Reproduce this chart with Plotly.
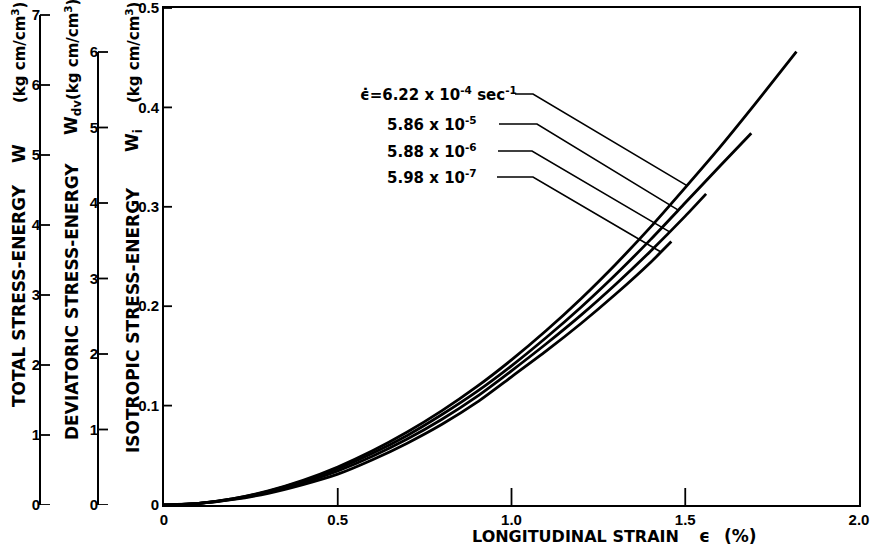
import numpy as np
import plotly.graph_objects as go

# Isotropic stress-energy W_i (kg cm/cm^3) vs longitudinal strain (%) at four strain rates
strain_a = [0.0, 0.1, 0.2, 0.3, 0.4, 0.5, 0.6, 0.7, 0.8, 0.9, 1.0, 1.1, 1.2, 1.3, 1.4, 1.5, 1.6, 1.7, 1.82]
wi_a = [0.0, 0.0017, 0.0065, 0.0143, 0.0249, 0.0383, 0.0545, 0.0734, 0.0949, 0.1190, 0.1460,
        0.1755, 0.2076, 0.2423, 0.2795, 0.3193, 0.3600, 0.4030, 0.4560]

strain_b = [0.0, 0.1, 0.2, 0.3, 0.4, 0.5, 0.6, 0.7, 0.8, 0.9, 1.0, 1.1, 1.2, 1.3, 1.4, 1.5, 1.6, 1.69]
wi_b = [0.0, 0.0017, 0.0063, 0.0138, 0.0240, 0.0365, 0.0520, 0.0700, 0.0910, 0.1140, 0.1400,
        0.1685, 0.1990, 0.2319, 0.2670, 0.3040, 0.3410, 0.3740]

strain_c = [0.0, 0.1, 0.2, 0.3, 0.4, 0.5, 0.6, 0.7, 0.8, 0.9, 1.0, 1.1, 1.2, 1.3, 1.4, 1.5, 1.56]
wi_c = [0.0, 0.0016, 0.0060, 0.0128, 0.0222, 0.0342, 0.0490, 0.0663, 0.0862, 0.1090, 0.1350,
        0.1622, 0.1910, 0.2221, 0.2553, 0.2906, 0.3130]

strain_d = [0.0, 0.1, 0.2, 0.3, 0.4, 0.5, 0.6, 0.7, 0.8, 0.9, 1.0, 1.1, 1.2, 1.3, 1.4, 1.46]
wi_d = [0.0, 0.0015, 0.0056, 0.0118, 0.0205, 0.0310, 0.0455, 0.0622, 0.0812, 0.1032, 0.1290,
        0.1550, 0.1826, 0.2122, 0.2440, 0.2650]

rate_labels = [
    "ϵ̇=6.22 x 10<sup>-4</sup> sec<sup>-1</sup>",
    "5.86 x 10<sup>-5</sup>",
    "5.88 x 10<sup>-6</sup>",
    "5.98 x 10<sup>-7</sup>",
]

x_tickvals = [0, 0.5, 1.0, 1.5, 2.0]
x_ticktext = ["0", "0.5", "1.0", "1.5", "2.0"]
wi_tickvals = [0, 0.1, 0.2, 0.3, 0.4, 0.5]
wi_ticktext = ["0", "0.1", "0.2", "0.3", "0.4", "0.5"]
w_tickvals = [0, 1, 2, 3, 4, 5, 6, 7]
wdv_tickvals = [0, 1, 2, 3, 4, 5, 6]

# ---- page geometry (pixels) ----
W_PX, H_PX = 880, 559
M_L, M_R, M_T, M_B = 30, 21, 8, 54
PAPER_W = W_PX - M_L - M_R
PAPER_H = H_PX - M_T - M_B
PLOT_LEFT = 164              # main (W_i) axis position
X_SCALE = (W_PX - M_R - PLOT_LEFT) / 2.0   # px per % strain
Y_BOTTOM = H_PX - M_B
Y_SCALE = PAPER_H / 0.5                     # px per unit W_i
W_AXIS_X, WDV_AXIS_X = 40, 98
W_PX_PER_UNIT, WDV_PX_PER_UNIT = 70.0, 75.5
X_TICK_LEN, WI_TICK_LEN, SIDE_TICK_LEN = 17, 8, 10


def paper_x(px):
    return (px - M_L) / PAPER_W


def paper_y(py):
    return (Y_BOTTOM - py) / PAPER_H


def data_x(px):
    return (px - PLOT_LEFT) / X_SCALE


def data_y(py):
    return (Y_BOTTOM - py) / Y_SCALE


fig = go.Figure()

curves = [(strain_a, wi_a), (strain_b, wi_b), (strain_c, wi_c), (strain_d, wi_d)]
for (sx, sy), name in zip(curves, rate_labels):
    fig.add_trace(go.Scatter(x=sx, y=sy, mode="lines", name=name,
                             line=dict(color="black", width=2.8, shape="spline", smoothing=0.6),
                             showlegend=False, hoverinfo="skip"))

# leader lines: text left (px), row centre (px), elbow start/end (px), strain where it meets its curve
leaders = [
    dict(text_x=358, y=94, h0=515, h1=533, at=1.505),
    dict(text_x=385, y=124, h0=499, h1=537, at=1.48),
    dict(text_x=385, y=151, h0=498, h1=532, at=1.455),
    dict(text_x=385, y=177, h0=497, h1=533, at=1.43),
]
annotations = []
for (sx, sy), label, ld in zip(curves, rate_labels, leaders):
    tip_y = float(np.interp(ld["at"], sx, sy))
    fig.add_trace(go.Scatter(
        x=[data_x(ld["h0"]), data_x(ld["h1"]), ld["at"]],
        y=[data_y(ld["y"]), data_y(ld["y"]), tip_y],
        mode="lines", line=dict(color="black", width=1.6),
        showlegend=False, hoverinfo="skip"))
    annotations.append(dict(text="<b>%s</b>" % label, x=paper_x(ld["text_x"]), y=paper_y(ld["y"]),
                            xref="paper", yref="paper", xanchor="left", yanchor="middle",
                            showarrow=False,
                            font=dict(family="DejaVu Sans", size=15, color="black")))

# placeholder traces so the two extra energy scales are drawn
fig.add_trace(go.Scatter(x=[None], y=[None], xaxis="x", yaxis="y2", mode="lines",
                         showlegend=False, hoverinfo="skip"))
fig.add_trace(go.Scatter(x=[None], y=[None], xaxis="x", yaxis="y3", mode="lines",
                         showlegend=False, hoverinfo="skip"))


def text_ann(text, px, py, size=17, angle=-90, xanchor="center"):
    return dict(text="<b>%s</b>" % text, x=paper_x(px), y=paper_y(py),
                xref="paper", yref="paper", xanchor=xanchor, yanchor="middle",
                showarrow=False, textangle=angle,
                font=dict(family="DejaVu Sans", size=size, color="black"))


unit = "(kg cm/cm<sup>3</sup>)"
annotations += [
    text_ann("TOTAL STRESS-ENERGY", 19, 296),
    text_ann("W", 19, 154),
    text_ann(unit, 19, 53, size=15),
    text_ann("DEVIATORIC STRESS-ENERGY", 72, 302),
    text_ann("W<sub>dv</sub>", 72, 118),
    text_ann(unit, 72, 50, size=15),
    text_ann("ISOTROPIC STRESS-ENERGY", 133, 320),
    text_ann("W<sub>i</sub>", 133, 141),
    text_ann(unit, 133, 53, size=15),
    text_ann("LONGITUDINAL STRAIN", 470, 536, size=16, angle=0, xanchor="left"),
    text_ann("ϵ", 697, 536, size=17, angle=0, xanchor="left"),
    text_ann("(%)", 722, 536, size=17, angle=0, xanchor="left"),
]

TICK_LINE = dict(color="black", width=1.8)
shapes = [
    # W and W_dv scale lines stop at their top tick
    dict(type="line", xref="paper", yref="y2", x0=paper_x(W_AXIS_X), x1=paper_x(W_AXIS_X),
         y0=w_tickvals[0], y1=w_tickvals[-1], line=dict(color="black", width=2)),
    dict(type="line", xref="paper", yref="y3", x0=paper_x(WDV_AXIS_X), x1=paper_x(WDV_AXIS_X),
         y0=wdv_tickvals[0], y1=wdv_tickvals[-1], line=dict(color="black", width=2)),
]
# tick marks pointing into the plot, one per tick value
for v in x_tickvals[1:-1]:
    shapes.append(dict(type="line", xref="x", x0=v, x1=v, yref="paper",
                       y0=0, y1=X_TICK_LEN / PAPER_H, line=TICK_LINE))
for v in wi_tickvals[1:]:
    shapes.append(dict(type="line", yref="y", y0=v, y1=v, xref="paper",
                       x0=paper_x(PLOT_LEFT), x1=paper_x(PLOT_LEFT + WI_TICK_LEN), line=TICK_LINE))
for v in w_tickvals:
    shapes.append(dict(type="line", yref="y2", y0=v, y1=v, xref="paper",
                       x0=paper_x(W_AXIS_X), x1=paper_x(W_AXIS_X + SIDE_TICK_LEN), line=TICK_LINE))
for v in wdv_tickvals:
    shapes.append(dict(type="line", yref="y3", y0=v, y1=v, xref="paper",
                       x0=paper_x(WDV_AXIS_X), x1=paper_x(WDV_AXIS_X + SIDE_TICK_LEN),
                       line=TICK_LINE))

TICK_FONT = dict(family="Liberation Sans", size=15, color="black", weight="bold")
AXIS = dict(showgrid=False, zeroline=False, linecolor="black", linewidth=2, ticks="",
            tickfont=TICK_FONT, tickmode="array", automargin=False,
            ticklabeloverflow="allow")

fig.update_layout(
    width=W_PX, height=H_PX,
    margin=dict(l=M_L, r=M_R, t=M_T, b=M_B, pad=0, autoexpand=False),
    paper_bgcolor="white", plot_bgcolor="white",
    xaxis=dict(domain=[paper_x(PLOT_LEFT), 1], range=[0, 2.0],
               tickvals=x_tickvals, ticktext=x_ticktext, showline=True, mirror=True, **AXIS),
    yaxis=dict(range=[0, 0.5], tickvals=wi_tickvals, ticktext=wi_ticktext,
               showline=True, mirror=True, anchor="x", **AXIS),
    yaxis2=dict(range=[0, PAPER_H / W_PX_PER_UNIT], tickvals=w_tickvals,
                ticktext=[str(v) for v in w_tickvals], overlaying="y",
                anchor="free", position=paper_x(W_AXIS_X), side="left",
                showline=False, **AXIS),
    yaxis3=dict(range=[0, PAPER_H / WDV_PX_PER_UNIT], tickvals=wdv_tickvals,
                ticktext=[str(v) for v in wdv_tickvals], overlaying="y",
                anchor="free", position=paper_x(WDV_AXIS_X), side="left",
                showline=False, **AXIS),
    annotations=annotations,
    shapes=shapes,
    showlegend=False,
)

fig.write_html("out.html")
